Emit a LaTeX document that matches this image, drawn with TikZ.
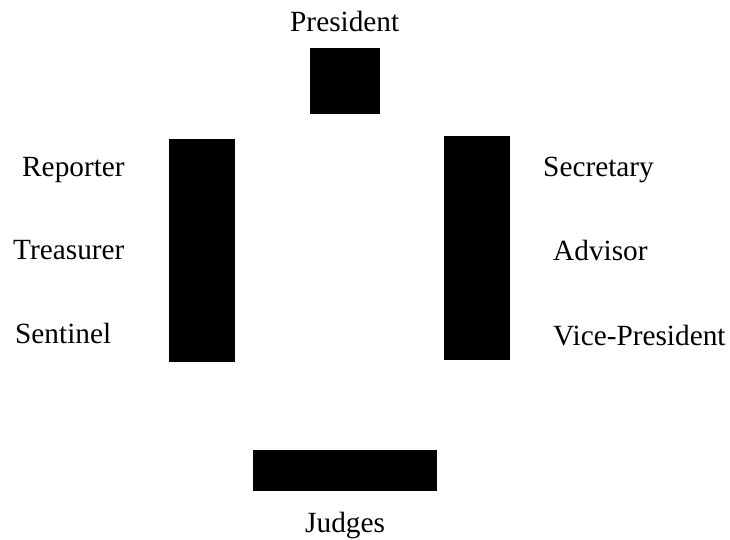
\documentclass[tikz,border=0pt]{standalone}
\usepackage{fontspec}
\setmainfont{Liberation Serif}
\begin{document}
\begin{tikzpicture}[x=1pt,y=-1pt,
  blk/.style={fill=black,draw=none,inner sep=0pt,anchor=north west},
  lbl/.style={inner sep=0pt,anchor=base west,font=\fontsize{29.3}{35}\selectfont}]
\useasboundingbox (0,0) rectangle (730,540);
% boxes
\node[blk,minimum width=70pt,minimum height=66pt] (pres) at (310,48) {};
\node[blk,minimum width=66pt,minimum height=223pt] (left) at (169,139) {};
\node[blk,minimum width=66pt,minimum height=224pt] (right) at (444,136) {};
\node[blk,minimum width=184pt,minimum height=41pt] (judgesbox) at (253,450) {};
% labels
\node[lbl] (tpres) at (290,32) {President};
\node[lbl] (trep) at (22,176) {Reporter};
\node[lbl] (ttreas) at (13,259) {Treasurer};
\node[lbl] (tsent) at (15,343) {Sentinel};
\node[lbl] (tsec) at (543,177) {Secretary};
\node[lbl] (tadv) at (553,260) {Advisor};
\node[lbl] (tvp) at (553,345) {Vice-President};
\node[lbl] (tjud) at (305,532) {Judges};
\end{tikzpicture}
\end{document}
